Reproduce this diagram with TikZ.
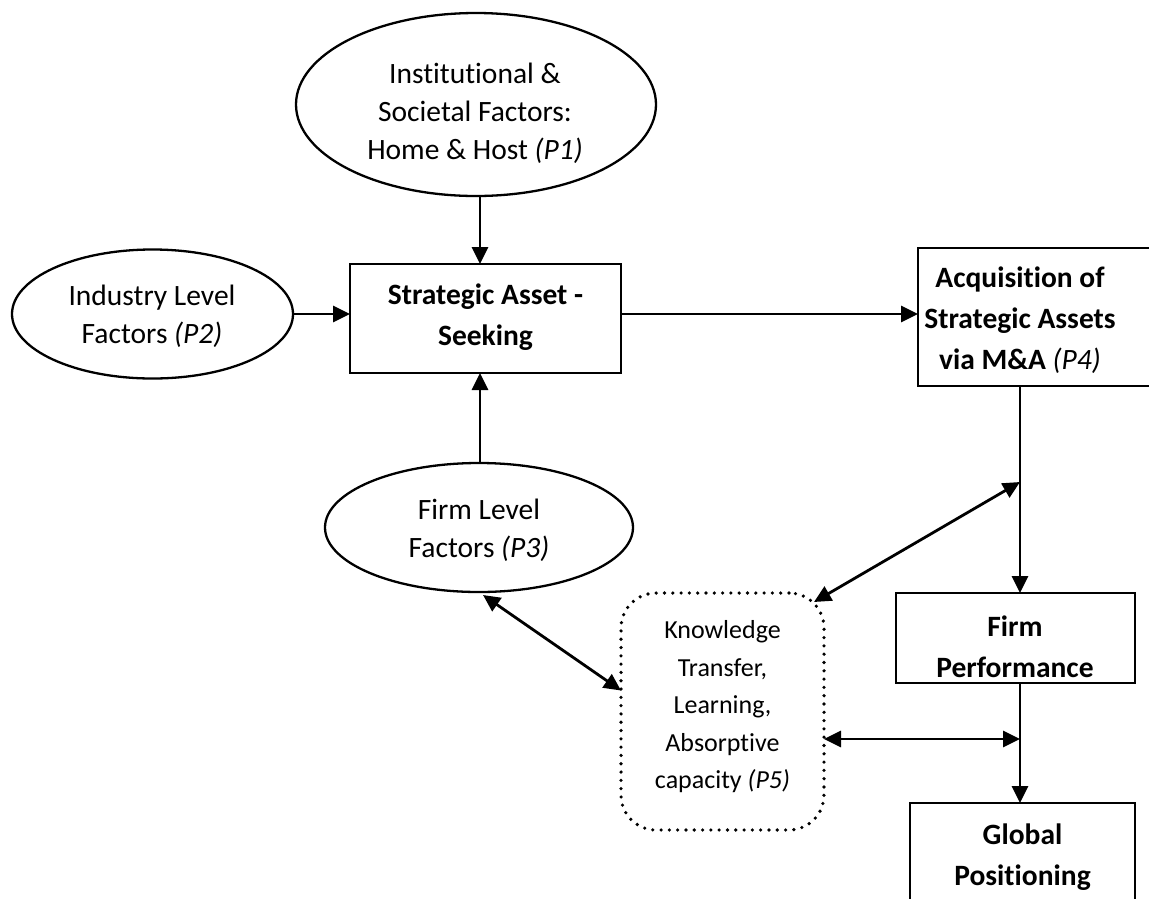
\documentclass[tikz,border=0pt]{standalone}
\usepackage{fontspec}
\setmainfont{Carlito}[RawFeature={-liga;-clig;-calt;-dlig}]
\usetikzlibrary{arrows.meta,calc,shapes.geometric}
\begin{document}
\begin{tikzpicture}[x=1pt,y=-1pt,
  ell/.style={ellipse, draw, line width=2.3pt, inner sep=0pt, outer sep=0pt},
  boxx/.style={rectangle, draw, line width=2.3pt, inner sep=0pt, outer sep=0pt},
  txt/.style={align=center, inner sep=0pt, font=\fontsize{29.5}{38}\selectfont},
  btxt/.style={align=center, inner sep=0pt, font=\fontsize{29.5}{41}\selectfont\bfseries},
  stxt/.style={align=center, inner sep=0pt, font=\fontsize{26}{37.5}\selectfont},
  arr/.style={line width=2.8pt, -{Triangle[length=17pt,width=16pt]}},
  darr/.style={line width=2.8pt, {Triangle[length=17pt,width=16pt]}-{Triangle[length=17pt,width=16pt]}},
  dotbox/.style={draw, rounded corners=35pt, line width=3.6pt, dash pattern=on 0pt off 8.3pt, line cap=round, inner sep=0pt, outer sep=0pt}]

\useasboundingbox (0,0) rectangle (1149,898);
\clip (0,0) rectangle (1149,898);

% shapes
\node[ell, minimum width=360pt, minimum height=183pt] (p1) at (476,104.5) {};
\node[ell, minimum width=281pt, minimum height=129pt] (ind) at (152.5,314) {};
\node[ell, minimum width=308pt, minimum height=129pt] (fl) at (479,527.5) {};
\node[boxx, minimum width=271pt, minimum height=109pt] (sa) at (485.5,318.5) {};
\node[boxx, minimum width=252pt, minimum height=138pt] (acq) at (1044,317) {};
\node[boxx, minimum width=239pt, minimum height=90pt] (fp) at (1015.5,638) {};
\node[boxx, minimum width=225pt, minimum height=107pt] (gp) at (1022.5,856.5) {};
\node[dotbox, minimum width=203pt, minimum height=237pt] (kt) at (722.5,711.5) {};

% texts
\node[txt] (p1t) at (475,113) {Institutional \&\\Societal Factors:\\Home \& Host \textit{(P1)}};
\node[txt] (indt) at (152,316.5) {Industry Level\\Factors \textit{(P2)}};
\node[txt] (flt) at (479,530) {Firm Level\\Factors \textit{(P3)}};
\node[btxt] (sat) at (485.5,317) {Strategic Asset -\\Seeking};
\node[btxt] (acqt) at (1020,320) {Acquisition of\\Strategic Assets\\via M\&A \textit{\mdseries (P4)}};
\node[btxt] (fpt) at (1015,647) {Firm\\Performance};
\node[btxt] (gpt) at (1022.5,857) {Global\\Positioning};
\node[stxt] (ktt) at (722.5,707) {Knowledge\\Transfer,\\Learning,\\Absorptive\\capacity \textit{(P5)}};

% junctions
\coordinate (j1) at (1020,482);
\coordinate (j2) at (1020,739);
\coordinate (ax) at (480,0);

% connectors
\draw[arr] (p1.south -| ax) -- (sa.north -| ax);
\draw[arr] (ind.east) -- (sa.west |- ind.east);
\draw[arr] (sa.east |- ind.east) -- (acq.west |- ind.east);
\draw[arr] (fl.north -| ax) -- (sa.south -| ax);
\draw[arr] (acq.south -| j1) -- (fp.north -| j1);
\draw[arr] (fp.south -| j2) -- (gp.north -| j2);
\draw[darr] (j1) -- ($(kt.north east)+(-10,9)$);
\draw[darr] (kt.east |- j2) -- (j2);
\draw[darr] ($(fl.south)+(4,3)$) -- ($(kt.west)+(0,-21)$);
\end{tikzpicture}
\end{document}
